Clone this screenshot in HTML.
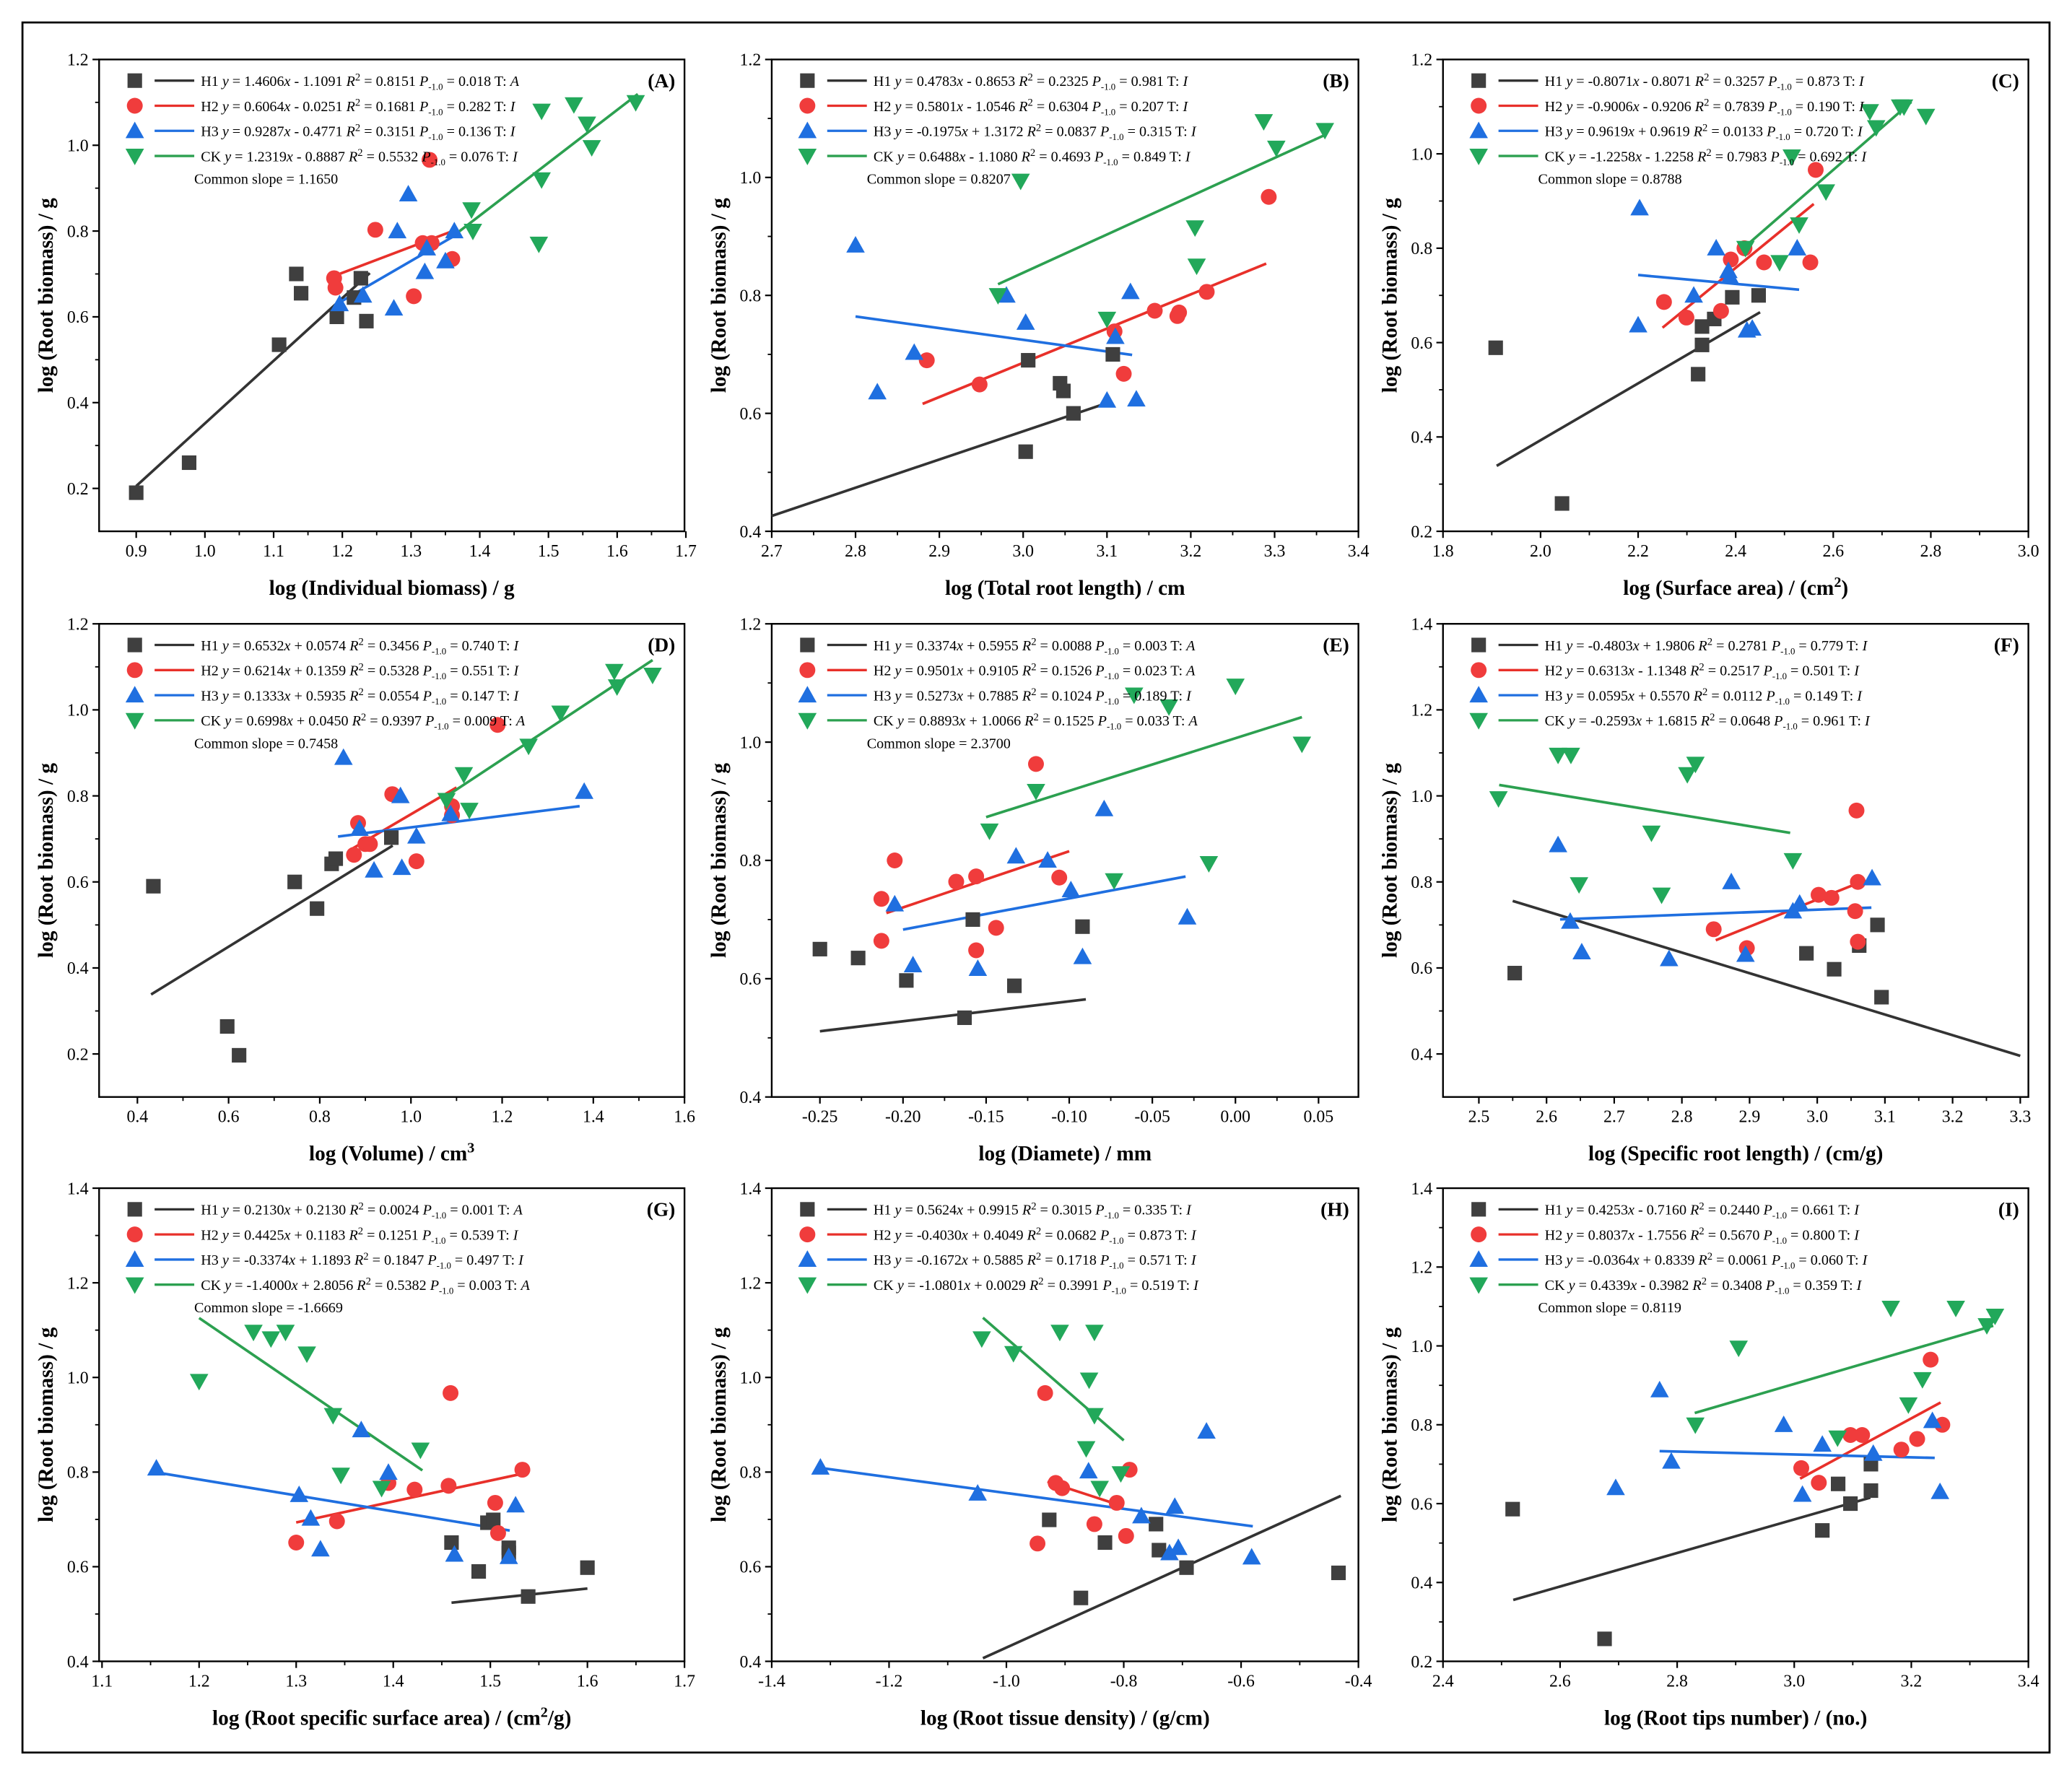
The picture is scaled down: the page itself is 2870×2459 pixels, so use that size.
<!DOCTYPE html>
<html><head><meta charset="utf-8"><title>Root biomass scatter panels</title>
<style>
html,body{margin:0;padding:0;background:#fff;}
svg{display:block;}
text{font-family:"Liberation Serif","DejaVu Serif",serif;}
</style></head>
<body>
<svg id="fig" xmlns="http://www.w3.org/2000/svg" width="2870" height="2459" viewBox="0 0 1568 1343" preserveAspectRatio="none">
<rect x="0" y="0" width="1568" height="1343" fill="#fff"/>
<rect x="17" y="17" width="1534" height="1309" fill="none" stroke="#000" stroke-width="1.5"/>
</svg>
<script>
// ---------- DATA ----------
const seriesNames = ["H1","H2","H3","CK"];
// Panel A
const A_H1x=[0.90,0.977,1.108,1.133,1.14,1.192,1.217,1.227,1.235];
const A_H1y=[0.19,0.26,0.535,0.70,0.655,0.60,0.645,0.69,0.59];
const A_H2x=[1.188,1.19,1.248,1.304,1.317,1.327,1.33,1.36];
const A_H2y=[0.69,0.668,0.803,0.648,0.772,0.966,0.772,0.735];
const A_H3x=[1.196,1.23,1.28,1.275,1.296,1.32,1.323,1.35,1.363];
const A_H3y=[0.63,0.65,0.80,0.62,0.886,0.705,0.76,0.73,0.80];
const A_CKx=[1.388,1.39,1.486,1.49,1.49,1.537,1.556,1.563,1.627];
const A_CKy=[0.85,0.80,0.77,0.92,1.08,1.095,1.05,0.995,1.10];
const A_slope=[1.4606,0.6064,0.9287,1.2319];
const A_int=[-1.1091,-0.0251,-0.4771,-0.8887];
const A_xmin=[0.9,1.19,1.19,1.37];
const A_xmax=[1.24,1.36,1.36,1.63];
// Panel B
const B_H1x=[3.003,3.006,3.044,3.048,3.06,3.107];
const B_H1y=[0.535,0.69,0.651,0.638,0.60,0.70];
const B_H2x=[2.885,2.948,3.109,3.12,3.157,3.184,3.186,3.219,3.293];
const B_H2y=[0.69,0.649,0.739,0.667,0.774,0.765,0.771,0.806,0.967];
const B_H3x=[2.80,2.826,2.87,3.003,2.98,3.10,3.11,3.128,3.135];
const B_H3y=[0.885,0.636,0.703,0.754,0.80,0.622,0.73,0.806,0.624];
const B_CKx=[2.97,2.997,3.10,3.205,3.207,3.287,3.302,3.36];
const B_CKy=[0.80,0.994,0.76,0.915,0.85,1.095,1.05,1.08];
const B_slope=[0.4783,0.5801,-0.1975,0.6488];
const B_int=[-0.8653,-1.0546,1.3172,-1.1080];
const B_xmin=[2.7,2.88,2.8,2.97];
const B_xmax=[3.1,3.29,3.13,3.36];
// Panel C
const C_H1x=[1.908,2.044,2.323,2.331,2.331,2.393,2.447,2.356];
const C_H1y=[0.589,0.259,0.533,0.634,0.595,0.696,0.70,0.65];
const C_H2x=[2.253,2.299,2.37,2.39,2.418,2.458,2.553,2.564];
const C_H2y=[0.686,0.653,0.667,0.776,0.80,0.77,0.77,0.966];
const C_H3x=[2.203,2.20,2.314,2.36,2.385,2.388,2.423,2.434,2.526];
const C_H3y=[0.885,0.637,0.70,0.80,0.752,0.74,0.626,0.63,0.80];
const C_CKx=[2.42,2.49,2.515,2.53,2.585,2.675,2.688,2.737,2.745,2.79];
const C_CKy=[0.80,0.77,0.994,0.85,0.92,1.09,1.056,1.10,1.10,1.08];
const C_slope=[0.603,0.846,-0.094,0.90];
const C_int=[-0.813,-1.272,0.950,-1.374];
const C_xmin=[1.91,2.25,2.2,2.42];
const C_xmax=[2.45,2.56,2.53,2.76];
// Panel D
const D_H1x=[0.435,0.597,0.623,0.745,0.794,0.826,0.835,0.957];
const D_H1y=[0.59,0.264,0.197,0.60,0.538,0.642,0.654,0.703];
const D_H2x=[0.884,0.875,0.90,0.91,0.959,1.012,1.09,1.09,1.19];
const D_H2y=[0.737,0.663,0.688,0.688,0.804,0.648,0.776,0.755,0.965];
const D_H3x=[0.852,0.887,0.919,0.977,0.98,1.012,1.087,1.38];
const D_H3y=[0.889,0.724,0.627,0.80,0.633,0.706,0.758,0.81];
const D_CKx=[1.078,1.116,1.128,1.258,1.328,1.446,1.452,1.53];
const D_CKy=[0.79,0.85,0.767,0.916,0.993,1.09,1.054,1.081];
const D_slope=[0.6532,0.6214,0.1333,0.6998];
const D_int=[0.0574,0.1359,0.5935,0.0450];
const D_xmin=[0.43,0.87,0.84,1.07];
const D_xmax=[0.96,1.10,1.37,1.53];
// Panel E
const E_H1x=[-0.25,-0.227,-0.198,-0.158,-0.163,-0.133,-0.092];
const E_H1y=[0.65,0.635,0.597,0.70,0.534,0.588,0.688];
const E_H2x=[-0.213,-0.213,-0.205,-0.168,-0.156,-0.156,-0.144,-0.12,-0.106];
const E_H2y=[0.664,0.735,0.80,0.764,0.773,0.648,0.686,0.963,0.771];
const E_H3x=[-0.205,-0.194,-0.155,-0.132,-0.113,-0.099,-0.092,-0.079,-0.029];
const E_H3y=[0.726,0.623,0.617,0.807,0.80,0.75,0.637,0.887,0.704];
const E_CKx=[-0.148,-0.12,-0.073,-0.061,-0.04,-0.016,0.0,0.04];
const E_CKy=[0.85,0.917,0.766,1.08,1.06,0.795,1.095,0.997];
const E_slope=[0.3374,0.9501,0.5273,0.8893];
const E_int=[0.5955,0.9105,0.7885,1.0066];
const E_xmin=[-0.25,-0.21,-0.2,-0.15];
const E_xmax=[-0.09,-0.1,-0.03,0.04];
// Panel F
const F_H1x=[2.553,2.984,3.025,3.062,3.089,3.095];
const F_H1y=[0.588,0.634,0.597,0.652,0.70,0.532];
const F_H2x=[2.847,2.896,3.002,3.021,3.056,3.058,3.06,3.06];
const F_H2y=[0.69,0.646,0.77,0.763,0.732,0.966,0.80,0.661];
const F_H3x=[2.617,2.635,2.652,2.781,2.873,2.894,2.964,2.974,3.081];
const F_H3y=[0.886,0.708,0.637,0.621,0.80,0.631,0.732,0.75,0.809];
const F_CKx=[2.529,2.617,2.636,2.648,2.755,2.77,2.808,2.82,2.964];
const F_CKy=[0.994,1.095,1.095,0.794,0.914,0.77,1.05,1.074,0.85];
const F_slope=[-0.4803,0.6313,0.0595,-0.2593];
const F_int=[1.9806,-1.1348,0.5570,1.6815];
const F_xmin=[2.55,2.85,2.62,2.53];
const F_xmax=[3.3,3.06,3.08,2.96];
// Panel G
const G_H1x=[1.46,1.488,1.497,1.503,1.519,1.519,1.539,1.60];
const G_H1y=[0.651,0.59,0.693,0.699,0.64,0.629,0.537,0.598];
const G_H2x=[1.30,1.342,1.395,1.422,1.457,1.459,1.505,1.508,1.533];
const G_H2y=[0.651,0.696,0.777,0.763,0.771,0.967,0.735,0.671,0.805];
const G_H3x=[1.156,1.303,1.315,1.325,1.367,1.395,1.463,1.519,1.526];
const G_H3y=[0.808,0.752,0.702,0.637,0.889,0.799,0.626,0.621,0.73];
const G_CKx=[1.20,1.256,1.274,1.289,1.311,1.338,1.346,1.388,1.428];
const G_CKy=[0.992,1.096,1.082,1.096,1.05,0.92,0.794,0.766,0.847];
const G_slope=[0.2130,0.4425,-0.3374,-1.4000];
const G_int=[0.2130,0.1183,1.1893,2.8056];
const G_xmin=[1.46,1.3,1.156,1.2];
const G_xmax=[1.6,1.53,1.52,1.43];
// Panel H
const H_H1x=[-0.927,-0.873,-0.832,-0.745,-0.74,-0.693,-0.434];
const H_H1y=[0.699,0.534,0.651,0.69,0.635,0.598,0.587];
const H_H2x=[-0.947,-0.934,-0.916,-0.905,-0.85,-0.812,-0.796,-0.79];
const H_H2y=[0.649,0.967,0.777,0.766,0.69,0.735,0.665,0.805];
const H_H3x=[-1.317,-1.049,-0.86,-0.77,-0.722,-0.713,-0.707,-0.659,-0.582];
const H_H3y=[0.81,0.755,0.802,0.707,0.629,0.727,0.64,0.886,0.62];
const H_CKx=[-1.042,-0.988,-0.909,-0.864,-0.859,-0.85,-0.85,-0.841,-0.805];
const H_CKy=[1.082,1.051,1.096,0.85,0.995,0.92,1.096,0.766,0.797];
const H_slope=[0.5624,-0.4030,-0.1672,-1.0801];
const H_int=[0.9915,0.4049,0.5885,0.0029];
const H_xmin=[-1.04,-0.93,-1.32,-1.04];
const H_xmax=[-0.43,-0.8,-0.58,-0.8];
// Panel I
const I_H1x=[2.519,2.676,3.048,3.096,3.131,3.131,3.075];
const I_H1y=[0.586,0.257,0.532,0.60,0.633,0.70,0.65];
const I_H2x=[3.012,3.042,3.096,3.116,3.183,3.21,3.233,3.253];
const I_H2y=[0.69,0.653,0.774,0.774,0.737,0.764,0.965,0.80];
const I_H3x=[2.695,2.77,2.79,2.982,3.014,3.048,3.135,3.236,3.249];
const I_H3y=[0.64,0.888,0.707,0.80,0.623,0.75,0.727,0.81,0.63];
const I_CKx=[2.831,2.905,3.074,3.165,3.195,3.219,3.276,3.329,3.343];
const I_CKy=[0.80,0.995,0.767,1.096,0.851,0.915,1.096,1.052,1.076];
const I_slope=[0.4253,0.8037,-0.0364,0.4339];
const I_int=[-0.7160,-1.7556,0.8339,-0.3982];
const I_xmin=[2.52,3.01,2.77,2.83];
const I_xmax=[3.13,3.25,3.24,3.34];

// Legend texts: [slope-term, intercept-term, R2, P, T]
const A_leg=[["1.4606","- 1.1091","0.8151","0.018","A"],["0.6064","- 0.0251","0.1681","0.282","I"],["0.9287","- 0.4771","0.3151","0.136","I"],["1.2319","- 0.8887","0.5532","0.076","I"]];
const B_leg=[["0.4783","- 0.8653","0.2325","0.981","I"],["0.5801","- 1.0546","0.6304","0.207","I"],["-0.1975","+ 1.3172","0.0837","0.315","I"],["0.6488","- 1.1080","0.4693","0.849","I"]];
const C_leg=[["-0.8071","- 0.8071","0.3257","0.873","I"],["-0.9006","- 0.9206","0.7839","0.190","I"],["0.9619","+ 0.9619","0.0133","0.720","I"],["-1.2258","- 1.2258","0.7983","0.692","I"]];
const D_leg=[["0.6532","+ 0.0574","0.3456","0.740","I"],["0.6214","+ 0.1359","0.5328","0.551","I"],["0.1333","+ 0.5935","0.0554","0.147","I"],["0.6998","+ 0.0450","0.9397","0.009","A"]];
const E_leg=[["0.3374","+ 0.5955","0.0088","0.003","A"],["0.9501","+ 0.9105","0.1526","0.023","A"],["0.5273","+ 0.7885","0.1024","0.189","I"],["0.8893","+ 1.0066","0.1525","0.033","A"]];
const F_leg=[["-0.4803","+ 1.9806","0.2781","0.779","I"],["0.6313","- 1.1348","0.2517","0.501","I"],["0.0595","+ 0.5570","0.0112","0.149","I"],["-0.2593","+ 1.6815","0.0648","0.961","I"]];
const G_leg=[["0.2130","+ 0.2130","0.0024","0.001","A"],["0.4425","+ 0.1183","0.1251","0.539","I"],["-0.3374","+ 1.1893","0.1847","0.497","I"],["-1.4000","+ 2.8056","0.5382","0.003","A"]];
const H_leg=[["0.5624","+ 0.9915","0.3015","0.335","I"],["-0.4030","+ 0.4049","0.0682","0.873","I"],["-0.1672","+ 0.5885","0.1718","0.571","I"],["-1.0801","+ 0.0029","0.3991","0.519","I"]];
const I_leg=[["0.4253","- 0.7160","0.2440","0.661","I"],["0.8037","- 1.7556","0.5670","0.800","I"],["-0.0364","+ 0.8339","0.0061","0.060","I"],["0.4339","- 0.3982","0.3408","0.359","I"]];
const commonSlopes=["1.1650","0.8207","0.8788","0.7458","2.3700","","-1.6669","","0.8119"];

const A_xt=[0.9,1.0,1.1,1.2,1.3,1.4,1.5,1.6,1.7], A_yt=[0.2,0.4,0.6,0.8,1.0,1.2];
const B_xt=[2.7,2.8,2.9,3.0,3.1,3.2,3.3,3.4], B_yt=[0.4,0.6,0.8,1.0,1.2];
const C_xt=[1.8,2.0,2.2,2.4,2.6,2.8,3.0], C_yt=[0.2,0.4,0.6,0.8,1.0,1.2];
const D_xt=[0.4,0.6,0.8,1.0,1.2,1.4,1.6], D_yt=[0.2,0.4,0.6,0.8,1.0,1.2];
const E_xt=[-0.25,-0.2,-0.15,-0.1,-0.05,0.0,0.05], E_yt=[0.4,0.6,0.8,1.0,1.2];
const F_xt=[2.5,2.6,2.7,2.8,2.9,3.0,3.1,3.2,3.3], F_yt=[0.4,0.6,0.8,1.0,1.2,1.4];
const G_xt=[1.1,1.2,1.3,1.4,1.5,1.6,1.7], G_yt=[0.4,0.6,0.8,1.0,1.2,1.4];
const H_xt=[-1.4,-1.2,-1.0,-0.8,-0.6,-0.4], H_yt=[0.4,0.6,0.8,1.0,1.2,1.4];
const I_xt=[2.4,2.6,2.8,3.0,3.2,3.4], I_yt=[0.2,0.4,0.6,0.8,1.0,1.2,1.4];

// ---------- DRAW ----------
const NS="http://www.w3.org/2000/svg";
const svg=document.getElementById('fig');
const mk=(t,a,p)=>{const e=document.createElementNS(NS,t);for(const k in a)e.setAttribute(k,a[k]);(p||svg).appendChild(e);return e;};
const colors=["#3f3f3f","#f03c3c","#1f6fe0","#22a85a"];
const lineColors=["#333333","#e8302a","#1f6fe0","#2ca050"];

const cols=[[75,518],[584,1028],[1092,1535]];
const rows=[[45,402],[472,830],[899,1257]];
const panels=[
 {id:"A",c:0,r:0,xd:[0.846,1.698],yd:[0.1,1.2],xt:A_xt,yt:A_yt,d:[[A_H1x,A_H1y],[A_H2x,A_H2y],[A_H3x,A_H3y],[A_CKx,A_CKy]],s:A_slope,b:A_int,x0:A_xmin,x1:A_xmax,leg:A_leg,title:["log (Individual biomass) / g"]},
 {id:"B",c:1,r:0,xd:[2.7,3.4],yd:[0.4,1.2],xt:B_xt,yt:B_yt,d:[[B_H1x,B_H1y],[B_H2x,B_H2y],[B_H3x,B_H3y],[B_CKx,B_CKy]],s:B_slope,b:B_int,x0:B_xmin,x1:B_xmax,leg:B_leg,title:["log (Total root length) / cm"]},
 {id:"C",c:2,r:0,xd:[1.8,3.0],yd:[0.2,1.2],xt:C_xt,yt:C_yt,d:[[C_H1x,C_H1y],[C_H2x,C_H2y],[C_H3x,C_H3y],[C_CKx,C_CKy]],s:C_slope,b:C_int,x0:C_xmin,x1:C_xmax,leg:C_leg,title:["log (Surface area) / (cm","2",")"]},
 {id:"D",c:0,r:1,xd:[0.316,1.6],yd:[0.1,1.2],xt:D_xt,yt:D_yt,d:[[D_H1x,D_H1y],[D_H2x,D_H2y],[D_H3x,D_H3y],[D_CKx,D_CKy]],s:D_slope,b:D_int,x0:D_xmin,x1:D_xmax,leg:D_leg,title:["log (Volume) / cm","3",""]},
 {id:"E",c:1,r:1,xd:[-0.279,0.074],yd:[0.4,1.2],xt:E_xt,yt:E_yt,d:[[E_H1x,E_H1y],[E_H2x,E_H2y],[E_H3x,E_H3y],[E_CKx,E_CKy]],s:E_slope,b:E_int,x0:E_xmin,x1:E_xmax,leg:E_leg,title:["log (Diamete) / mm"]},
 {id:"F",c:2,r:1,xd:[2.447,3.312],yd:[0.3,1.4],xt:F_xt,yt:F_yt,d:[[F_H1x,F_H1y],[F_H2x,F_H2y],[F_H3x,F_H3y],[F_CKx,F_CKy]],s:F_slope,b:F_int,x0:F_xmin,x1:F_xmax,leg:F_leg,title:["log (Specific root length) / (cm/g)"]},
 {id:"G",c:0,r:2,xd:[1.097,1.7],yd:[0.4,1.4],xt:G_xt,yt:G_yt,d:[[G_H1x,G_H1y],[G_H2x,G_H2y],[G_H3x,G_H3y],[G_CKx,G_CKy]],s:G_slope,b:G_int,x0:G_xmin,x1:G_xmax,leg:G_leg,title:["log (Root specific surface area) / (cm","2","/g)"]},
 {id:"H",c:1,r:2,xd:[-1.4,-0.4],yd:[0.4,1.4],xt:H_xt,yt:H_yt,d:[[H_H1x,H_H1y],[H_H2x,H_H2y],[H_H3x,H_H3y],[H_CKx,H_CKy]],s:H_slope,b:H_int,x0:H_xmin,x1:H_xmax,leg:H_leg,title:["log  (Root tissue density) / (g/cm)"]},
 {id:"I",c:2,r:2,xd:[2.4,3.4],yd:[0.2,1.4],xt:I_xt,yt:I_yt,d:[[I_H1x,I_H1y],[I_H2x,I_H2y],[I_H3x,I_H3y],[I_CKx,I_CKy]],s:I_slope,b:I_int,x0:I_xmin,x1:I_xmax,leg:I_leg,title:["log (Root tips number) / (no.)"]}
];

function marker(g,k,x,y,name){
  const col=colors[k];let e;
  if(k===0){e=mk('rect',{x:x-5.5,y:y-5.5,width:11,height:11,fill:col},g);}
  else if(k===1){e=mk('circle',{cx:x,cy:y,r:6,fill:col},g);}
  else if(k===2){e=mk('polygon',{points:`${x},${y-7} ${x-7},${y+5.5} ${x+7},${y+5.5}`,fill:col},g);}
  else {e=mk('polygon',{points:`${x},${y+7} ${x-7},${y-5.5} ${x+7},${y-5.5}`,fill:col},g);}
  
  
  return e;
}
function fmt(v){let s=(Math.round(v*100)/100).toString();if(Math.abs(v)<1e-9)s="0.00";if(!s.includes('.'))s+=".0";if(/\.\d$/.test(s)&&panelsDec2)s+="0";return s;}
let panelsDec2=false;

panels.forEach((p,pi)=>{
  const L=cols[p.c][0],R=cols[p.c][1],T=rows[p.r][0],B=rows[p.r][1];
  const sx=v=>L+(v-p.xd[0])/(p.xd[1]-p.xd[0])*(R-L);
  const sy=v=>B-(v-p.yd[0])/(p.yd[1]-p.yd[0])*(B-T);
  const g=mk('g',{});
  
  
  // frame
  const fr=mk('rect',{x:L,y:T,width:R-L,height:B-T,fill:'none',stroke:'#000','stroke-width':1.3},g);
  
  
  // x ticks
  panelsDec2=p.id==="E";
  p.xt.forEach((v,i)=>{
    const x=sx(v);
    mk('line',{x1:x,y1:B,x2:x,y2:B+5,stroke:'#000','stroke-width':1.2},g);
    if(i<p.xt.length-1){const xm=sx((v+p.xt[i+1])/2);mk('line',{x1:xm,y1:B,x2:xm,y2:B+3,stroke:'#000','stroke-width':1},g);}
    const t=mk('text',{x:x,y:B+19,'font-size':13,'text-anchor':'middle',fill:'#000'},g);
    t.textContent=fmt(v);
    
    
  });
  panelsDec2=false;
  p.yt.forEach((v,i)=>{
    const y=sy(v);
    mk('line',{x1:L,y1:y,x2:L-5,y2:y,stroke:'#000','stroke-width':1.2},g);
    if(i<p.yt.length-1){const ym=sy((v+p.yt[i+1])/2);mk('line',{x1:L,y1:ym,x2:L-3,y2:ym,stroke:'#000','stroke-width':1},g);}
    const t=mk('text',{x:L-8,y:y+4.5,'font-size':13,'text-anchor':'end',fill:'#000'},g);
    t.textContent=fmt(v);
    
    
  });
  // axis titles
  const yt=mk('text',{x:0,y:0,'font-size':16,'font-weight':'bold','text-anchor':'middle',transform:`translate(${L-35},${(T+B)/2}) rotate(-90)`},g);
  yt.textContent="log (Root biomass) / g";
  
  
  const xtT=mk('text',{x:(L+R)/2,y:B+48,'font-size':16,'font-weight':'bold','text-anchor':'middle'},g);
  
  
  if(p.title.length===1){xtT.textContent=p.title[0];}
  else{
    const a=mk('tspan',{},xtT);a.textContent=p.title[0];
    const s=mk('tspan',{dy:-6,'font-size':11},xtT);s.textContent=p.title[1];
    const c=mk('tspan',{dy:6},xtT);c.textContent=p.title[2]||"\u200b";
  }
  // panel label
  const pl=mk('text',{x:R-7,y:T+21,'font-size':15,'font-weight':'bold','text-anchor':'end'},g);
  pl.textContent="("+p.id+")";
  
  
  // fit lines
  for(let k=0;k<4;k++){
    const l=mk('line',{x1:sx(p.x0[k]),y1:sy(p.s[k]*p.x0[k]+p.b[k]),x2:sx(p.x1[k]),y2:sy(p.s[k]*p.x1[k]+p.b[k]),stroke:lineColors[k],'stroke-width':2},g);
    
    
  }
  // points
  for(let k=0;k<4;k++){
    const xs=p.d[k][0],ys=p.d[k][1];
    for(let i=0;i<xs.length;i++){marker(g,k,sx(xs[i]),sy(ys[i]),'point-'+seriesNames[k].toLowerCase());}
  }
  // legend
  for(let k=0;k<4;k++){
    const ly=T+16+k*19;
    const lg=mk('g',{},g);
    
    
    marker(lg,k,L+27,ly,'legend-marker');
    mk('line',{x1:L+42,y1:ly,x2:L+72,y2:ly,stroke:lineColors[k],'stroke-width':1.8},lg);
    const e=p.leg[k];
    const t=mk('text',{x:L+77,y:ly+4,'font-size':11},lg);
    const parts=[[seriesNames[k]+" ",0],["y",1],[" = "+e[0],0],["x",1],[" "+e[1]+"  ",0],["R",1],["2",2],[" = "+e[2]+"  ",0],["P",1],["-1.0",3],[" = "+e[3]+"  T: ",0],[e[4],1]];
    parts.forEach(([s,f])=>{
      const a={};
      if(f===1)a['font-style']='italic';
      if(f===2){a['font-size']=8;a['dy']=-4;}
      if(f===3){a['font-size']=7;a['dy']=3;}
      const ts=mk('tspan',a,t);ts.textContent=s;
      if(f===2){ts.setAttribute('data-back','4');}
      if(f===2||f===3){const back=mk('tspan',{dy:f===2?4:-3,'font-size':11},t);back.textContent="\u200b";}
    });
  }
  if(commonSlopes[pi]){
    const cs=mk('text',{x:L+72,y:T+94,'font-size':11},g);
    cs.textContent="Common slope = "+commonSlopes[pi];
    
    
  }
});
</script>
</body></html>
